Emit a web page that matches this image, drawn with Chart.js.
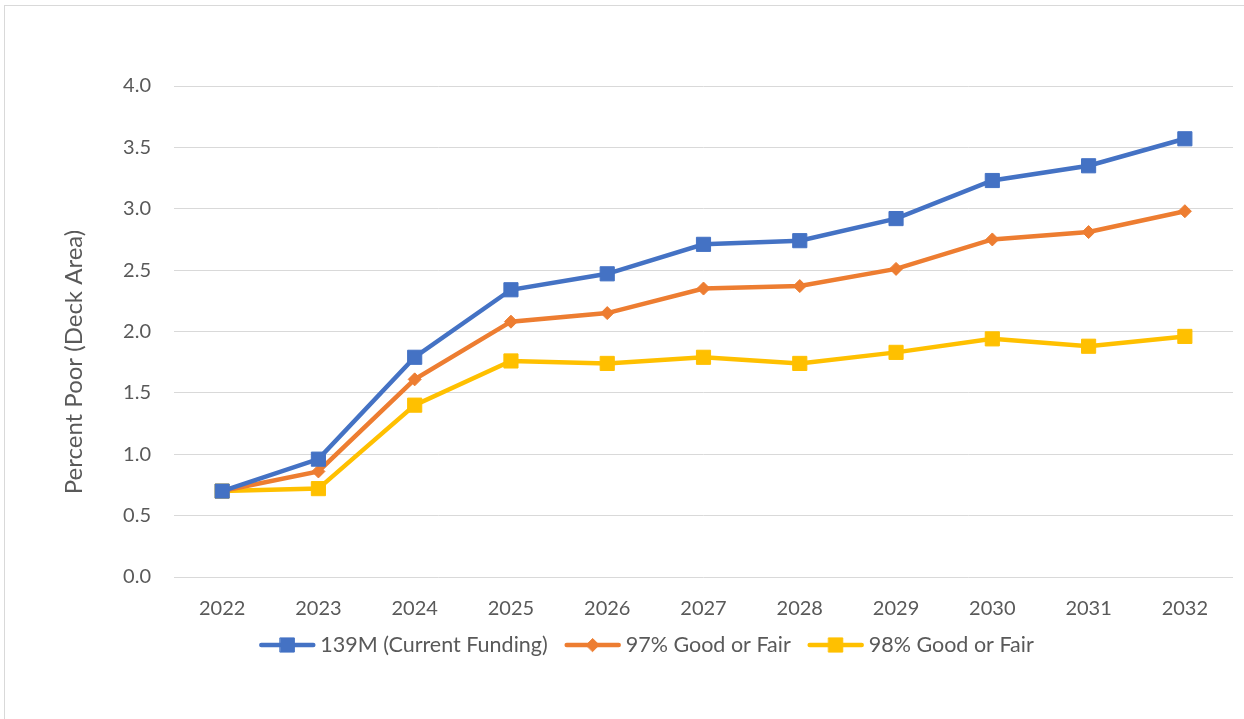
<!DOCTYPE html>
<html>
<head>
<meta charset="utf-8">
<script src="https://cdn.jsdelivr.net/npm/chart.js@4/dist/chart.umd.min.js"></script>
<style>
  html, body { margin: 0; padding: 0; background: #fff; }
  #wrap { width: 1244px; height: 719px; position: relative; }
</style>
</head>
<body>
<div id="wrap"><canvas id="c" width="1244" height="719"></canvas></div>
<script>
const years = ['2022','2023','2024','2025','2026','2027','2028','2029','2030','2031','2032'];
const current139M = [0.70, 0.96, 1.79, 2.34, 2.47, 2.71, 2.74, 2.92, 3.23, 3.35, 3.57];
const goodFair97 = [0.70, 0.86, 1.61, 2.08, 2.15, 2.35, 2.37, 2.51, 2.75, 2.81, 2.98];
const goodFair98 = [0.70, 0.72, 1.40, 1.76, 1.74, 1.79, 1.74, 1.83, 1.94, 1.88, 1.96];
const seriesNames = ['139M (Current Funding)', '97% Good or Fair', '98% Good or Fair'];
const yTitle = 'Percent Poor (Deck Area)';

const FONT = 'Lato, "Open Sans", sans-serif';
const TEXT = '#595959';
const GRID = '#d9d9d9';

const PLOT = { left: 174, right: 1233, top: 86, bottom: 577 };

const frame = {
  id: 'frame',
  beforeDraw(chart) {
    const ctx = chart.ctx;
    ctx.save();
    ctx.fillStyle = '#fff';
    ctx.fillRect(0, 0, chart.width, chart.height);
    ctx.strokeStyle = GRID;
    ctx.lineWidth = 1;
    ctx.strokeRect(4.5, 5.5, 1400, 900);
    ctx.restore();
  },
  afterDraw(chart) {
    const ctx = chart.ctx;
    ctx.save();
    // Y axis title
    ctx.font = '24px ' + FONT;
    ctx.fillStyle = TEXT;
    ctx.textAlign = 'center';
    ctx.textBaseline = 'middle';
    ctx.translate(74, 362);
    ctx.rotate(-Math.PI / 2);
    ctx.fillText(yTitle, 0, 0);
    ctx.restore();

    // Legend
    ctx.save();
    ctx.font = '21.5px ' + FONT;
    const segLen = 56, gap = 5, itemGap = 17;
    const items = chart.data.datasets.map(ds => ({ ds, w: ctx.measureText(ds.label).width }));
    let total = 0;
    items.forEach((it, i) => { total += segLen + gap + it.w + (i ? itemGap : 0); });
    let x = 646.5 - total / 2;
    const y = 645;
    items.forEach((it, i) => {
      if (i) x += itemGap;
      const ds = it.ds;
      ctx.strokeStyle = ds.borderColor;
      ctx.lineWidth = ds.borderWidth;
      ctx.lineCap = 'round';
      ctx.beginPath();
      ctx.moveTo(x + 2, y);
      ctx.lineTo(x + segLen - 2, y);
      ctx.stroke();
      ctx.fillStyle = ds.pointBackgroundColor;
      ctx.strokeStyle = ds.pointBorderColor;
      ctx.lineWidth = 1;
      Chart.helpers.drawPoint(ctx, {
        pointStyle: ds.pointStyle,
        radius: ds.pointRadius,
        rotation: 0,
        borderWidth: 1
      }, x + segLen / 2, y);
      ctx.fillStyle = TEXT;
      ctx.textAlign = 'left';
      ctx.textBaseline = 'middle';
      ctx.fillText(ds.label, x + segLen + gap, y);
      x += segLen + gap + it.w;
    });
    ctx.restore();
  }
};

function series(label, data, color, style, radius) {
  return {
    label, data,
    borderColor: color,
    backgroundColor: color,
    borderWidth: 4.5,
    pointStyle: style,
    pointRadius: radius,
    pointHoverRadius: radius,
    pointBackgroundColor: color,
    pointBorderColor: color,
    pointBorderWidth: 1,
    tension: 0,
    fill: false
  };
}

new Chart(document.getElementById('c'), {
  type: 'line',
  data: {
    labels: years,
    datasets: [
      series(seriesNames[0], current139M, '#4472C4', 'rect', 10),
      series(seriesNames[1], goodFair97, '#ED7D31', 'rectRot', 6.5),
      series(seriesNames[2], goodFair98, '#FFC000', 'rect', 10)
    ]
  },
  options: {
    responsive: false,
    animation: false,
    devicePixelRatio: 1,
    layout: { padding: { left: 0, top: PLOT.top, right: 1244 - PLOT.right, bottom: 0 } },
    plugins: { legend: { display: false }, tooltip: { enabled: false } },
    scales: {
      x: {
        offset: true,
        grid: { display: false, drawTicks: false },
        border: { display: false },
        ticks: { color: TEXT, font: { family: FONT, size: 20 }, padding: 20, maxRotation: 0 },
        afterFit(scale) { scale.height = 719 - PLOT.bottom; }
      },
      y: {
        min: 0, max: 4,
        grid: { color: GRID, lineWidth: 1, drawTicks: false },
        border: { display: false },
        ticks: {
          stepSize: 0.5,
          color: TEXT,
          font: { family: FONT, size: 20 },
          padding: 23,
          callback: v => Number(v).toFixed(1)
        },
        afterFit(scale) { scale.width = PLOT.left; }
      }
    }
  },
  plugins: [frame]
});
</script>
</body>
</html>
